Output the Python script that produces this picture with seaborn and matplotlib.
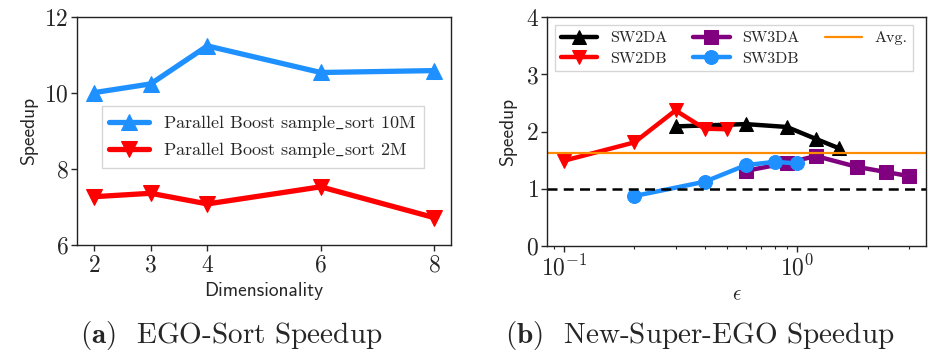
import matplotlib
matplotlib.use("Agg")
import matplotlib.pyplot as plt
import seaborn as sns
import numpy as np

# ---- data ----
dims = [2, 3, 4, 6, 8]
boost_10m = [10.01, 10.24, 11.24, 10.54, 10.59]
boost_2m = [7.27, 7.36, 7.08, 7.53, 6.72]

sw2da_x = [0.3, 0.6, 0.9, 1.2, 1.5]
sw2da_y = [2.09, 2.13, 2.08, 1.87, 1.71]
sw2db_x = [0.1, 0.2, 0.3, 0.4, 0.5]
sw2db_y = [1.49, 1.81, 2.37, 2.05, 2.04]
sw3da_x = [0.6, 0.9, 1.2, 1.8, 2.4, 3.0]
sw3da_y = [1.31, 1.45, 1.57, 1.38, 1.29, 1.22]
sw3db_x = [0.2, 0.4, 0.6, 0.8, 1.0]
sw3db_y = [0.87, 1.12, 1.41, 1.47, 1.44]
avg_speedup = 1.63
baseline = 1.0

sns.set_style("ticks")
plt.rcParams["font.family"] = ["cmr10", "DejaVu Serif"]
plt.rcParams["mathtext.fontset"] = "cm"
plt.rcParams["axes.formatter.use_mathtext"] = True
plt.rcParams["axes.unicode_minus"] = False
plt.rcParams["axes.edgecolor"] = "#222222"
plt.rcParams["xtick.direction"] = "out"
plt.rcParams["ytick.direction"] = "out"

fig = plt.figure(figsize=(9.29, 3.55), dpi=100)
ax1 = fig.add_axes([0.0829, 0.310, 0.4026, 0.642])
ax2 = fig.add_axes([0.5888, 0.308, 0.408, 0.643])

blue = "#1E90FF"
red = "#FF0000"
purple = "#800080"
orange = "#FF8C00"

# ---- panel (a) ----
sns.lineplot(x=dims, y=boost_10m, ax=ax1, color=blue, linewidth=3.8, marker="^",
             markersize=11, markeredgecolor=blue,
             label=r"Parallel Boost sample$\_$sort 10M")
sns.lineplot(x=dims, y=boost_2m, ax=ax1, color=red, linewidth=3.8, marker="v",
             markersize=11, markeredgecolor=red,
             label=r"Parallel Boost sample$\_$sort 2M")
ax1.set_ylim(6, 12)
ax1.set_yticks([6, 8, 10, 12])
ax1.set_xticks(dims)
ax1.set_xlabel("Dimensionality", family="cmss10", fontsize=14, labelpad=4)
ax1.set_ylabel("Speedup", family="cmss10", fontsize=14, labelpad=4)
ax1.tick_params(labelsize=17, length=4, width=1, pad=3)
ax1.tick_params(axis="y", pad=2)
leg1 = ax1.legend(loc="upper left", bbox_to_anchor=(0.067, 0.61), borderaxespad=0,
                  fontsize=13, handlelength=2.2, frameon=True, fancybox=False,
                  edgecolor="#cccccc", framealpha=0.8, borderpad=0.4, labelspacing=0.4)

# ---- panel (b) ----
sns.lineplot(x=sw2da_x, y=sw2da_y, ax=ax2, color="black", linewidth=3.2, marker="^",
             markersize=10, markeredgecolor="black", label="SW2DA")
sns.lineplot(x=sw2db_x, y=sw2db_y, ax=ax2, color=red, linewidth=3.2, marker="v",
             markersize=10, markeredgecolor=red, label="SW2DB")
sns.lineplot(x=sw3da_x, y=sw3da_y, ax=ax2, color=purple, linewidth=3.2, marker="s",
             markersize=10, markeredgecolor=purple, label="SW3DA")
sns.lineplot(x=sw3db_x, y=sw3db_y, ax=ax2, color=blue, linewidth=3.2, marker="o",
             markersize=10, markeredgecolor=blue, label="SW3DB")
ax2.set_xscale("log")
ax2.axhline(avg_speedup, color=orange, linewidth=1.6, label="Avg.")
ax2.axhline(baseline, color="black", linewidth=1.8, linestyle=(0, (4, 2.5)))
ax2.set_ylim(0, 4)
ax2.set_yticks([0, 1, 2, 3, 4])
ax2.set_xlabel(r"$\epsilon$", fontsize=15, labelpad=4)
ax2.set_ylabel("Speedup", family="cmss10", fontsize=14, labelpad=6)
ax2.tick_params(labelsize=17, length=4, width=1, pad=2)
ax2.tick_params(axis="x", pad=3)
ax2.tick_params(which="minor", length=2.5, width=0.8)
leg2 = ax2.legend(loc="upper left", bbox_to_anchor=(0.021, 0.965), borderaxespad=0,
                  ncol=3, fontsize=11.5, handlelength=2.3, frameon=True, fancybox=False,
                  edgecolor="#cccccc", framealpha=0.8, borderpad=0.35, labelspacing=0.4,
                  columnspacing=1.6)

for ax in (ax1, ax2):
    for s in ax.spines.values():
        s.set_linewidth(1.0)

# ---- captions ----
fig.text(0.086, 0.054, r"$\mathbf{(a)}$  EGO-Sort Speedup", ha="left", va="center",
         fontsize=21)
fig.text(0.5436, 0.054, r"$\mathbf{(b)}$  New-Super-EGO Speedup", ha="left", va="center",
         fontsize=21)

fig.savefig("out.png", dpi=100)
